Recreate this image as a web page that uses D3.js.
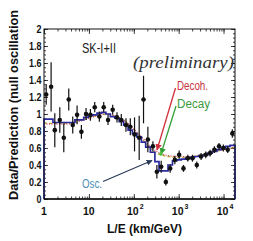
<!DOCTYPE html>
<html><head><meta charset="utf-8">
<script src="https://cdn.jsdelivr.net/npm/d3@7"></script>
<style>body{margin:0;background:#fff}svg{display:block}</style>
</head><body><svg id="c" width="253" height="241"></svg>
<script>
// L/E bin centres (km/GeV)
const leValues = [1.12,1.44,1.74,2.25,2.76,3.56,4.37,5.46,6.81,8.65,10.8,13.5,17.1,21.4,26.7,33.9,42.3,52.7,67,83.6,104,132,165,206,267,327,408,519,647,822,1026,1280,1600,2030,2535,3162,4018,5012,6250,7943,9900,12380,15700];
const dataRatio = [1.23,1.32,0.81,0.93,0.72,1.17,0.87,0.99,0.79,1.0,0.99,1.08,0.97,1.08,0.93,1.05,0.96,0.93,0.87,0.85,0.76,0.72,1.17,0.70,0.62,0.32,0.38,0.20,0.36,0.46,0.52,0.36,0.48,0.48,0.40,0.50,0.52,0.54,0.58,0.62,0.60,0.58,0.77];
const dataErr   = [0.12,0.29,0.20,0.15,0.17,0.13,0.10,0.11,0.08,0.07,0.07,0.06,0.06,0.06,0.06,0.06,0.06,0.07,0.08,0.10,0.20,0.26,0.28,0.15,0.06,0.08,0.07,0.04,0.05,0.05,0.05,0.04,0.04,0.04,0.04,0.04,0.04,0.04,0.04,0.04,0.04,0.04,0.05];
const oscRatio  = [0.94,0.94,0.90,0.90,0.90,0.90,0.90,0.93,0.93,0.96,0.98,0.99,1.01,1.02,1.00,0.97,0.95,0.91,0.87,0.81,0.77,0.73,0.67,0.61,0.55,0.44,0.33,0.33,0.40,0.45,0.46,0.47,0.48,0.49,0.50,0.51,0.52,0.54,0.56,0.58,0.60,0.62,0.63];
const decohLE    = [1,3,7,15,25,40,70,110,170,250,350,600,1000,2000,4000,8000,18000];
const decohRatio = [0.88,0.88,0.92,0.98,1.0,0.97,0.90,0.80,0.70,0.60,0.55,0.51,0.50,0.50,0.53,0.57,0.61];
const decayLE    = [1,3,7,15,25,40,70,110,170,250,350,600,1000,2000,4000,8000,18000];
const decayRatio = [0.89,0.89,0.93,0.98,1.0,0.97,0.90,0.80,0.68,0.58,0.53,0.50,0.49,0.50,0.53,0.57,0.61];
const yTickValues = [0,0.2,0.4,0.6,0.8,1,1.2,1.4,1.6,1.8,2];
const yTickLabels = ["0","0.2","0.4","0.6","0.8","1","1.2","1.4","1.6","1.8","2"];
const xTickValues = [1,10,100,1000,10000];
const xTickBase = ["1","10","10","10","10"];
const xTickExp  = ["","","2","3","4"];
const leDomain = [1,18000];

const svg = d3.select("#c");
const L=44, R=235, T=29, B=199;
const x = d3.scaleLog().domain(leDomain).range([L,R]);
const y = d3.scaleLinear().domain([0,2]).range([B,T]);

// minor ticks
const yMinor = d3.range(0,2.0001,0.05);
const xMinor = [];
[1,10,100,1000,10000].forEach(d=>{for(let k=1;k<10;k++){const v=d*k; if(v<=leDomain[1]) xMinor.push(v);}});

function ax(gen, tr){ const g=svg.append("g").attr("transform",tr).call(gen); g.select(".domain").remove(); g.selectAll("line").attr("stroke","#111").attr("stroke-width",0.8); return g;}
ax(d3.axisLeft(y).tickValues(yMinor).tickSize(-2).tickFormat(""),`translate(${L},0)`);
ax(d3.axisLeft(y).tickValues(yTickValues).tickSize(-4).tickFormat(""),`translate(${L},0)`);
ax(d3.axisRight(y).tickValues(yMinor).tickSize(-2).tickFormat(""),`translate(${R},0)`);
ax(d3.axisRight(y).tickValues(yTickValues).tickSize(-4).tickFormat(""),`translate(${R},0)`);
ax(d3.axisBottom(x).tickValues(xMinor).tickSize(-2.5).tickFormat(""),`translate(0,${B})`);
ax(d3.axisBottom(x).tickValues(xTickValues).tickSize(-5).tickFormat(""),`translate(0,${B})`);
ax(d3.axisTop(x).tickValues(xMinor).tickSize(-2.5).tickFormat(""),`translate(0,${T})`);
ax(d3.axisTop(x).tickValues(xTickValues).tickSize(-5).tickFormat(""),`translate(0,${T})`);

// theory curves
const lineS = d3.line().x(d=>x(d[0])).y(d=>y(d[1])).curve(d3.curveMonotoneX);
svg.append("path").attr("d",lineS(decayLE.map((v,i)=>[v,decayRatio[i]])))
  .attr("fill","none").attr("stroke","#b7ad3a").attr("stroke-width",1.3).attr("stroke-dasharray","3,2");
svg.append("path").attr("d",lineS(decohLE.map((v,i)=>[v,decohRatio[i]])))
  .attr("fill","none").attr("stroke","#d2405a").attr("stroke-width",1.2).attr("stroke-dasharray","1,1.5");

// oscillation histogram
const oscPts = [[leDomain[0],0],[leDomain[0],oscRatio[0]]]
  .concat(leValues.map((v,i)=>[v,oscRatio[i]]))
  .concat([[leDomain[1],oscRatio[oscRatio.length-1]],[leDomain[1],0]]);
const lineStep = d3.line().x(d=>x(d[0])).y(d=>y(d[1])).curve(d3.curveStep);
svg.append("path").attr("d",lineStep(oscPts)).attr("fill","none").attr("stroke","#2a2a9e").attr("stroke-width",1.7);

// frame
svg.append("rect").attr("x",L).attr("y",T).attr("width",R-L).attr("height",B-T)
  .attr("fill","none").attr("stroke","#111").attr("stroke-width",1);
svg.append("line").attr("x1",L).attr("x2",R).attr("y1",B).attr("y2",B).attr("stroke","#111").attr("stroke-width",1.4);

// data points
const gp = svg.append("g");
leValues.forEach((v,i)=>{
  gp.append("line").attr("x1",x(v)).attr("x2",x(v)).attr("y1",y(dataRatio[i]-dataErr[i])).attr("y2",y(dataRatio[i]+dataErr[i]))
    .attr("stroke","#111").attr("stroke-width",1.2);
  gp.append("circle").attr("cx",x(v)).attr("cy",y(dataRatio[i])).attr("r",2.3).attr("fill","#111");
});

// axis labels
const fontB = "'Liberation Sans', Arial, sans-serif";
svg.append("g").selectAll("text").data(yTickValues).join("text")
  .attr("x",41.5).attr("y",d=>y(d)+3.8).attr("text-anchor","end")
  .attr("font-family",fontB).attr("font-weight","bold").attr("font-size",10.5).attr("fill","#111")
  .text((d,i)=>yTickLabels[i])
  .each(function(){ const w=this.getComputedTextLength(); d3.select(this).attr("textLength",w*0.85).attr("lengthAdjust","spacingAndGlyphs"); });
xTickValues.forEach((v,i)=>{
  const t = svg.append("text").attr("y",214.5).attr("font-family",fontB).attr("font-weight","bold")
    .attr("font-size",10.5).attr("fill","#111");
  t.append("tspan").text(xTickBase[i]);
  if(xTickExp[i]) t.append("tspan").attr("dy",-6).attr("dx",1).attr("font-size",7).text(xTickExp[i]);
  const w = t.node().getComputedTextLength();
  t.attr("x", x(v) - (xTickExp[i] ? w/2 - 1 : w/2));
});
svg.append("text").attr("x",144.5).attr("y",232.5).attr("text-anchor","middle")
  .attr("font-family",fontB).attr("font-weight","bold").attr("font-size",12.5).attr("fill","#111")
  .attr("textLength",75).attr("lengthAdjust","spacingAndGlyphs")
  .text("L/E (km/GeV)");
svg.append("text").attr("transform","translate(18,200) rotate(-90)").attr("text-anchor","start")
  .attr("font-family",fontB).attr("font-weight","bold").attr("font-size",12.8).attr("fill","#111")
  .attr("textLength",190).attr("lengthAdjust","spacingAndGlyphs")
  .text("Data/Prediction (null oscillation");

// annotations
svg.append("text").attr("x",82).attr("y",53).attr("font-family",fontB).attr("font-size",14.5)
  .attr("fill","#222").attr("textLength",34).attr("lengthAdjust","spacingAndGlyphs").text("SK-I+II");
svg.append("text").attr("x",133).attr("y",67.5).attr("font-family","'Liberation Serif', 'Times New Roman', serif")
  .attr("font-style","italic").attr("font-size",16.5).attr("fill","#333")
  .attr("textLength",101).attr("lengthAdjust","spacingAndGlyphs").text("(preliminary)");
svg.append("text").attr("x",177).attr("y",90).attr("font-family",fontB).attr("font-size",12)
  .attr("fill","#c8323c").attr("textLength",31).attr("lengthAdjust","spacingAndGlyphs").text("Decoh.");
svg.append("text").attr("x",177).attr("y",108).attr("font-family",fontB).attr("font-size",12)
  .attr("fill","#3c9a3c").attr("textLength",33).attr("lengthAdjust","spacingAndGlyphs").text("Decay");
svg.append("text").attr("x",82).attr("y",187.5).attr("font-family",fontB).attr("font-size",12)
  .attr("fill","#4a8cb8").attr("textLength",20).attr("lengthAdjust","spacingAndGlyphs").text("Osc.");

// arrows
const defs = svg.append("defs");
function marker(id,col){
  defs.append("marker").attr("id",id).attr("viewBox","0 0 10 10").attr("refX",9).attr("refY",5)
    .attr("markerWidth",5).attr("markerHeight",5).attr("orient","auto")
    .append("path").attr("d","M0,0L10,5L0,10z").attr("fill",col);
}
marker("ar","#d0303a"); marker("ag","#33a033"); marker("ab","#2a3a58");
svg.append("line").attr("x1",175.5).attr("y1",88).attr("x2",157).attr("y2",150)
  .attr("stroke","#d0303a").attr("stroke-width",1.3).attr("marker-end","url(#ar)");
svg.append("line").attr("x1",176).attr("y1",106).attr("x2",161).attr("y2",154)
  .attr("stroke","#33a033").attr("stroke-width",1.3).attr("marker-end","url(#ag)");
svg.append("circle").attr("cx",161).attr("cy",154).attr("r",1.8).attr("fill","#4cbf3c");
svg.append("line").attr("x1",103).attr("y1",181.5).attr("x2",152).attr("y2",160.5)
  .attr("stroke","#2a3a58").attr("stroke-width",1.2).attr("marker-end","url(#ab)");
</script></body></html>
